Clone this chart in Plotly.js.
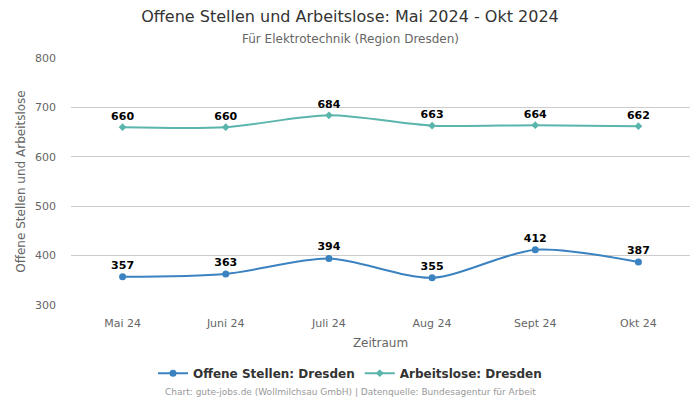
<!DOCTYPE html>
<html><head><meta charset="utf-8">
<script src="https://cdn.plot.ly/plotly-3.0.1.min.js"></script>
<style>body{margin:0;padding:0;background:#fff}#c{width:700px;height:400px}</style>
</head><body><div id="c"></div>
<script>
const months = ["Mai 24","Juni 24","Juli 24","Aug 24","Sept 24","Okt 24"];
const offeneStellen = [357,363,394,355,412,387];
const arbeitslose = [660,660,684,663,664,662];
const font = "DejaVu Sans, sans-serif";
const cx = (350 - 71) / 619;
const traces = [
 {x: months, y: offeneStellen, name: "Offene Stellen: Dresden", type: "scatter", mode: "lines+markers+text",
  line: {shape: "spline", smoothing: 0.8, color: "#3b82c0", width: 2}, marker: {symbol: "circle", size: 7, color: "#3b82c0"},
  text: offeneStellen.map(String), textposition: "top center", textfont: {family: font, size: 11, color: "#000", weight: "bold"}, cliponaxis: false},
 {x: months, y: arbeitslose, name: "Arbeitslose: Dresden", type: "scatter", mode: "lines+markers+text",
  line: {shape: "spline", smoothing: 0.8, color: "#5ab5ad", width: 2}, marker: {symbol: "diamond", size: 6, color: "#5ab5ad"},
  text: arbeitslose.map(String), textposition: "top center", textfont: {family: font, size: 11, color: "#000", weight: "bold"}, cliponaxis: false}
];
const layout = {
 width: 700, height: 400, margin: {l: 71, r: 10, t: 58, b: 95, autoexpand: false},
 paper_bgcolor: "#fff", plot_bgcolor: "#fff",
 font: {family: font, color: "#666", size: 11},
 title: {text: "Offene Stellen und Arbeitslose: Mai 2024 - Okt 2024", x: 0.5, xanchor: "center", y: 0.958, yanchor: "middle", font: {family: font, size: 16, color: "#333"}},
 annotations: [
  {text: "Für Elektrotechnik (Region Dresden)", xref: "paper", yref: "paper", x: cx, y: 1, yshift: 19, xanchor: "center", yanchor: "middle", showarrow: false, font: {family: font, size: 12, color: "#666"}},
  {text: "Chart: gute-jobs.de (Wollmilchsau GmbH) | Datenquelle: Bundesagentur für Arbeit", xref: "paper", yref: "paper", x: cx, y: 0, yshift: -87, xanchor: "center", yanchor: "middle", showarrow: false, font: {family: font, size: 9, color: "#999"}}
 ],
 xaxis: {type: "category", range: [-0.5, 5.5], automargin: false, showgrid: false, zeroline: false, showline: false, ticks: "", ticklabelstandoff: 10, tickfont: {family: font, size: 11, color: "#666"},
  title: {text: "Zeitraum", font: {family: font, size: 12, color: "#666"}, standoff: 9}},
 yaxis: {range: [300, 800], dtick: 100, automargin: false, gridcolor: "#ccc", gridwidth: 1, zeroline: false, showline: false, ticklabelstandoff: 14, tickfont: {family: font, size: 11, color: "#666"},
  title: {text: "Offene Stellen und Arbeitslose", font: {family: font, size: 12, color: "#666"}, standoff: 6}},
 legend: {orientation: "h", x: cx, xanchor: "center", y: -0.276, yanchor: "middle", font: {family: font, size: 12, color: "#333", weight: "bold"}},
 showlegend: true
};
Plotly.newPlot("c", traces, layout, {displayModeBar: false, staticPlot: true});
</script></body></html>
